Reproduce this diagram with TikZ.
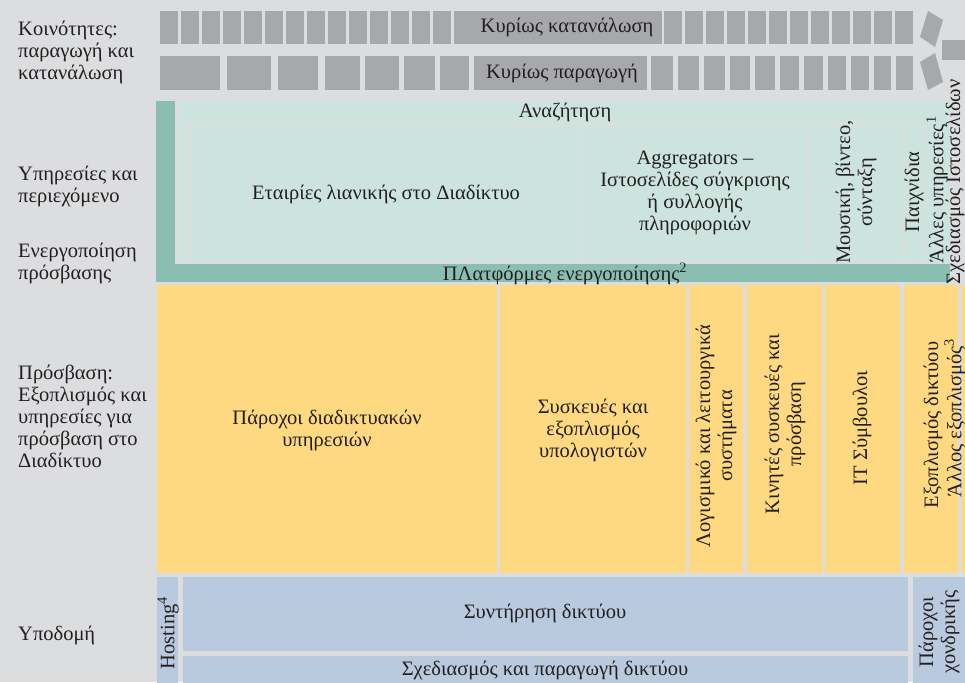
\documentclass[tikz,border=0pt]{standalone}
\usepackage{fontspec}
\setmainfont{Liberation Serif}
\definecolor{backgr}{RGB}{220,221,223}
\definecolor{bargray}{RGB}{167,168,171}
\definecolor{darkgreen}{RGB}{138,190,176}
\definecolor{lightgreen}{RGB}{205,227,222}
\definecolor{framegreen}{RGB}{214,224,221}
\definecolor{accessyellow}{RGB}{254,217,130}
\definecolor{infrablue}{RGB}{185,202,223}
\definecolor{ink}{RGB}{35,31,32}

\begin{document}
\begin{tikzpicture}[x=1pt, y=-1pt,
        lab/.style={font=\fontsize{20.5}{22}\selectfont, text=ink, inner sep=0pt, align=center},
        side/.style={lab, align=left, anchor=west},
        vlab/.style={lab, rotate=90}]
        \useasboundingbox (0,0) rectangle (965,682);
        \fill[backgr] (0,0) rectangle (965,682);
        \clip (0,0) rectangle (965,682);

        % Communities: bars and chevron
        \foreach \i in {0,...,35}
            \fill[bargray] (160+21*\i,11) rectangle ++(17.5,33);
        \foreach \x/\w in {160/60, 227/44, 278/40, 325/35, 365/34, 404/31, 440/29, 474/27,
                506/26, 537/25, 567/24, 596/23, 624/22, 651/22, 678/21, 704/21, 730/20,
                755/20, 780/19, 804/19, 828/18, 851/18, 874/17, 896/17}
            \fill[bargray] (\x,56) rectangle ++(\w,34);
        \fill[bargray] (920,37) -- (928,11) -- (943,20) -- (935,47) -- cycle;
        \fill[bargray] (920,62) -- (935,53) -- (943,82) -- (928,90) -- cycle;
        \fill[bargray] (942,40) rectangle (965,60);
        \node[lab, fill=bargray, minimum height=33, inner xsep=9] (consume) at (567,27.5) {Κυρίως κατανάλωση};
        \node[lab, fill=bargray, minimum height=34, inner xsep=9] (produce) at (562,73) {Κυρίως παραγωγή};

        % Services and enabling
        \fill[darkgreen] (156,101) rectangle (175,282);
        \fill[darkgreen] (156,264) rectangle (950,282);
        \fill[lightgreen] (180,101) rectangle (950,262);
        \fill[framegreen] (186,122) rectangle (927,262);
        \fill[lightgreen] (192,127) rectangle (580,262);
        \fill[lightgreen] (583,127) rectangle (807,262);
        \fill[lightgreen] (810,127) rectangle (902,262);
        \fill[lightgreen] (905,127) rectangle (925,262);
        \node[lab] (search) at (565,112) {Αναζήτηση};
        \node[lab] (retail) at (386,194) {Εταιρίες λιανικής στο Διαδίκτυο};
        \node[lab] (aggreg) at (695,193) {Aggregators –\\Ιστοσελίδες σύγκρισης\\ή συλλογής\\πληροφοριών};
        \node[vlab] (media) at (856,192) {Μουσική, βίντεο,\\σύνταξη};
        \node[vlab] (games) at (914,192) {Παιχνίδια};
        \node[vlab] (othserv) at (937,190) {Άλλες υπηρεσίες\textsuperscript{1}};
        \node[vlab] (webdes) at (955,182) {Σχεδιασμός Ιστοσελίδων};
        \node[lab] (platform) at (565,274) {ΠΛατφόρμες ενεργοποίησης\textsuperscript{2}};

        % Access
        \fill[accessyellow] (157,285) rectangle (497,573);
        \fill[accessyellow] (500,285) rectangle (686,573);
        \fill[accessyellow] (689,285) rectangle (743,573);
        \fill[accessyellow] (747,285) rectangle (822,573);
        \fill[accessyellow] (825,285) rectangle (900,573);
        \fill[accessyellow] (904,285) rectangle (958,573);
        \fill[accessyellow] (962,285) rectangle (990,573);
        \node[lab] (isp) at (327,430) {Πάροχοι διαδικτυακών\\υπηρεσιών};
        \node[lab] (devices) at (593,430) {Συσκευές  και\\εξοπλισμός\\υπολογιστών};
        \node[vlab] (software) at (716,436) {Λογισμικό και λειτουργικά\\συστήματα};
        \node[vlab] (mobile) at (785,424) {Κινητές συσκευές και\\πρόσβαση};
        \node[vlab] (itcons) at (862,428) {IT Σύμβουλοι};
        \node[vlab] (netequip) at (933,425) {Εξοπλισμός δικτύου};
        \node[vlab] (othequip) at (955,418) {Άλλος εξοπλισμός\textsuperscript{3}};

        % Infrastructure
        \fill[infrablue] (157,577) rectangle (178,690);
        \fill[infrablue] (183,577) rectangle (908,651);
        \fill[infrablue] (183,656) rectangle (908,690);
        \fill[infrablue] (913,577) rectangle (990,690);
        \node[vlab] (hosting) at (168,633) {Hosting\textsuperscript{4}};
        \node[lab] (maint) at (545,613) {Συντήρηση δικτύου};
        \node[lab] (netdesign) at (545,670) {Σχεδιασμός και παραγωγή δικτύου};
        \node[vlab] (wholesale) at (939,632) {Πάροχοι\\χονδρικής};

        % Layer labels
        \node[side] (communities) at (18,52) {Κοινότητες:\\παραγωγή και\\κατανάλωση};
        \node[side] (services) at (18,186) {Υπηρεσίες και\\περιεχόμενο};
        \node[side] (enabling) at (18,263) {Ενεργοποίηση\\πρόσβασης};
        \node[side] (access) at (18,416) {Πρόσβαση:\\Εξοπλισμός και\\υπηρεσίες για\\πρόσβαση στο\\Διαδίκτυο};
        \node[side] (infra) at (18,635) {Υποδομή};
\end{tikzpicture}
\end{document}
